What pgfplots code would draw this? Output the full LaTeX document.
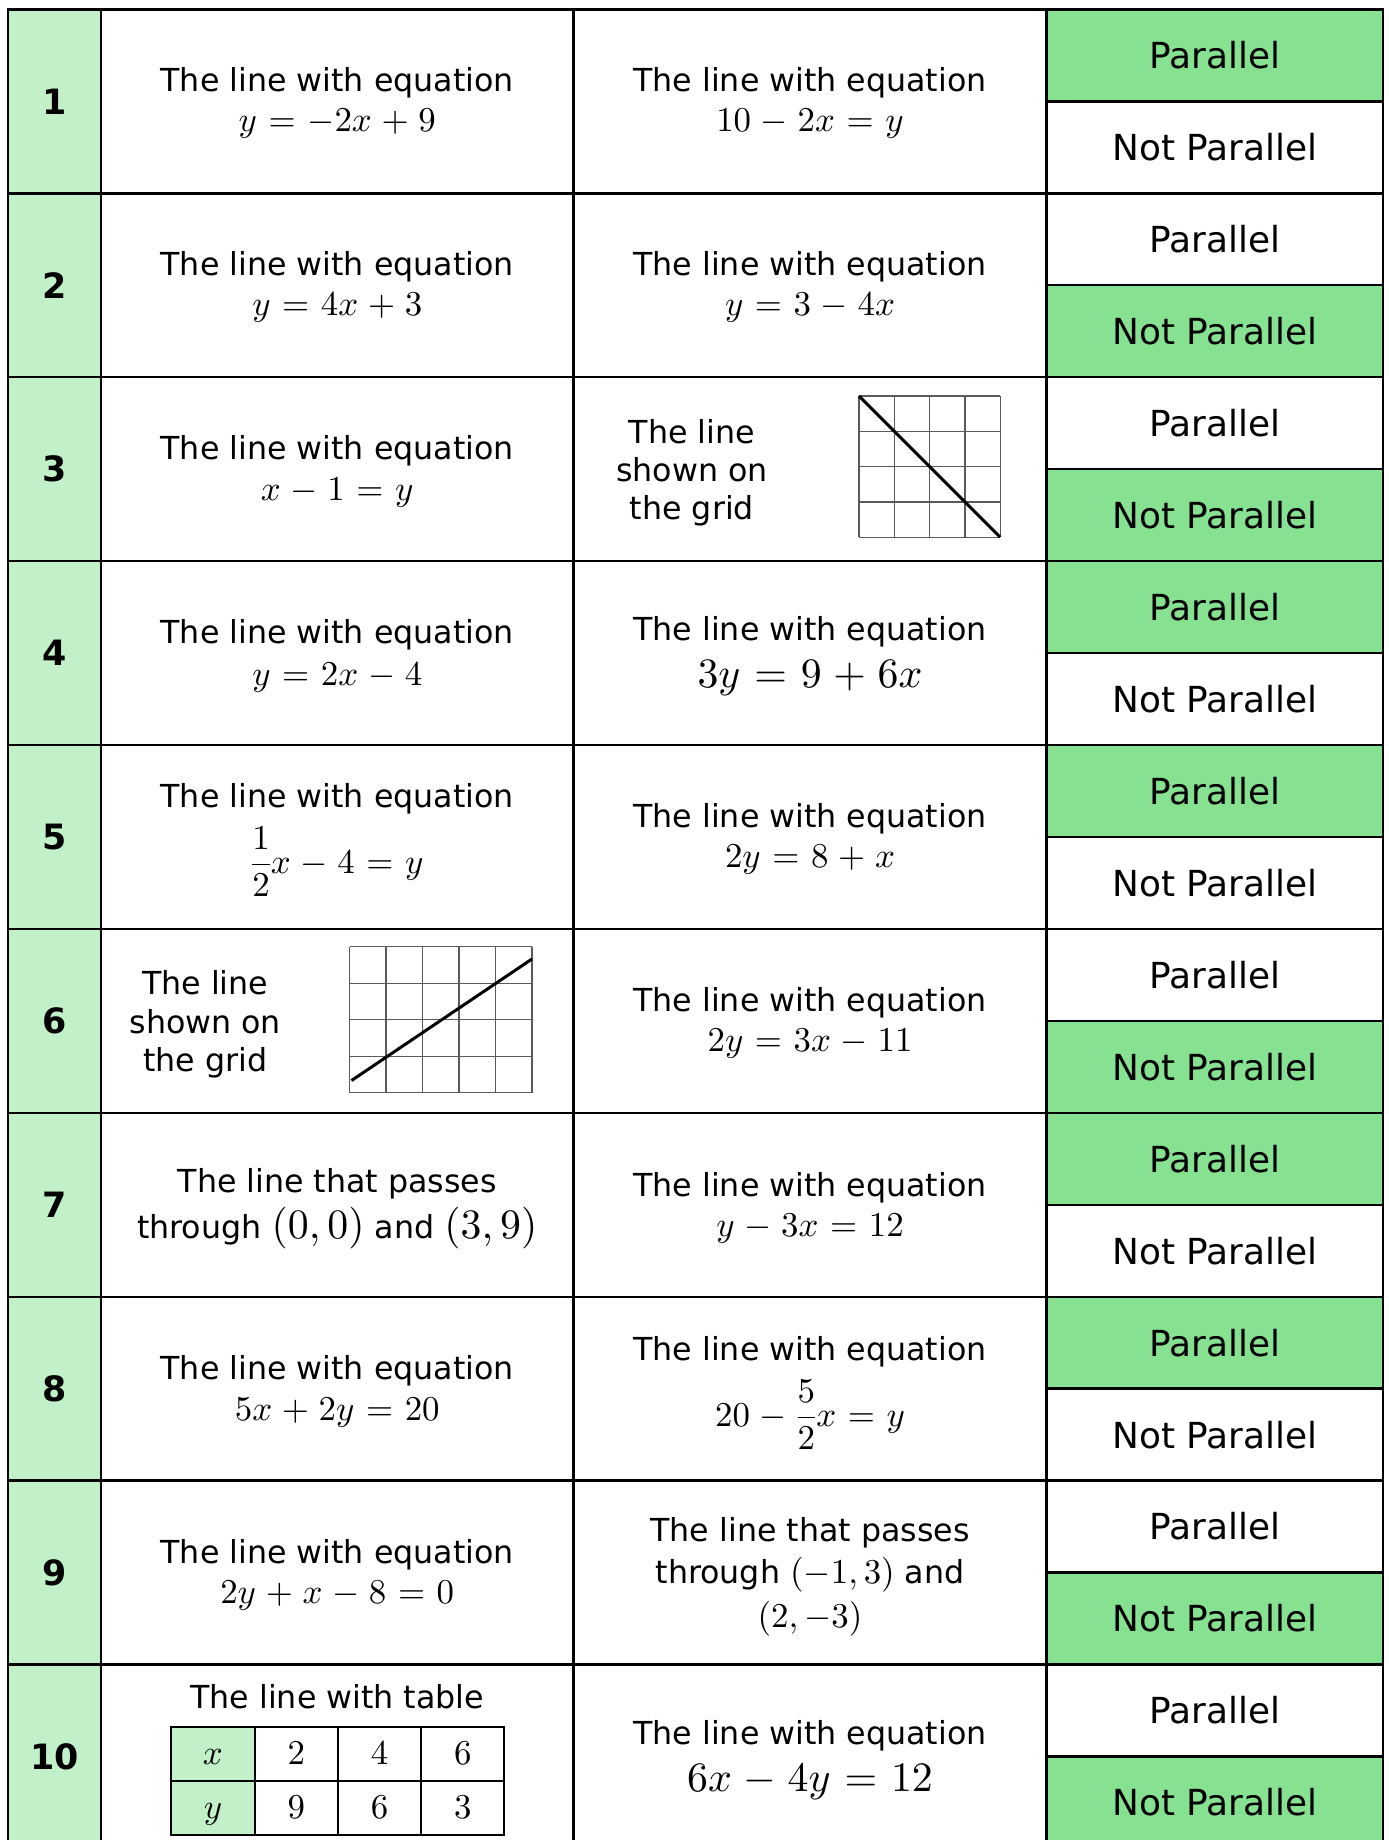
\RequirePackage{fix-cm}
\documentclass[border=0pt]{standalone}
\DeclareFontShape{OT1}{cmr}{m}{n}{<->cmr10}{}
\DeclareFontShape{OML}{cmm}{m}{it}{<->cmmi10}{}
\DeclareFontShape{OMS}{cmsy}{m}{n}{<->cmsy10}{}
\usepackage{amsmath}
\usepackage[no-math]{fontspec}
\setmainfont{DejaVu Sans}
\usepackage{pgfplots}
\pgfplotsset{compat=1.18}
\definecolor{numg}{HTML}{C2F0C8}
\definecolor{ansg}{HTML}{86E291}
\definecolor{gridc}{HTML}{5A5A5A}
\newcommand\tfz{\fontsize{31.8}{41}\selectfont}
\newcommand\mth[1]{{\fontsize{35}{42}\selectfont$#1$}}
\newcommand\bgm[1]{{\fontsize{42}{50}\selectfont$#1$}}
\newcommand\afz{\fontsize{36}{44}\selectfont}
\newcommand\nfz{\fontsize{35}{42}\selectfont\bfseries}
\newcommand\TX[3]{\node[anchor=base,font=\tfz,inner sep=0pt] at (axis cs:#1,#2) {#3};}
\newcommand\HL[3]{\addplot[black,line width=2.4bp,line cap=rect] coordinates {(#1,#3)(#2,#3)};}
\newcommand\VL[3]{\addplot[black,line width=2.4bp,line cap=rect] coordinates {(#1,#2)(#1,#3)};}
\newcommand\BOX[5]{\addplot[fill=#5,draw=none] coordinates {(#1,#2)(#3,#2)(#3,#4)(#1,#4)} -- cycle;}
\newcommand\GL[4]{\addplot[gridc,line width=1.3bp] coordinates {(#1,#2)(#3,#4)};}
\newcommand\PA[1]{\node[font=\afz] at (axis cs:1214.75,#1) {Parallel};}
\newcommand\NPA[1]{\node[font=\afz] at (axis cs:1214.75,#1) {Not Parallel};}
\newcommand\NUM[2]{\node[font=\nfz] at (axis cs:54.55,#1) {#2};}
\begin{document}
\thickmuskip=6mu plus 4mu
\medmuskip=5mu plus 2mu minus 3mu
\begin{tikzpicture}
\useasboundingbox (0,0) rectangle (1389bp,1840bp);
\begin{axis}[at={(0,0)},anchor=south west,width=1389bp,height=1840bp,
  scale only axis,xmin=0,xmax=1389,ymin=0,ymax=1840,y dir=reverse,
  hide axis,clip=true]
% number column
\BOX{8.2}{9.4}{100.9}{1848.4}{numg}
% green answers
\BOX{1046.4}{9.4}{1383.1}{101.35}{ansg}
\BOX{1046.4}{285.25}{1383.1}{377.2}{ansg}
\BOX{1046.4}{469.15}{1383.1}{561.1}{ansg}
\BOX{1046.4}{561.1}{1383.1}{653.05}{ansg}
\BOX{1046.4}{745.0}{1383.1}{836.95}{ansg}
\BOX{1046.4}{1020.85}{1383.1}{1112.8}{ansg}
\BOX{1046.4}{1112.8}{1383.1}{1204.75}{ansg}
\BOX{1046.4}{1296.7}{1383.1}{1388.65}{ansg}
\BOX{1046.4}{1572.55}{1383.1}{1664.5}{ansg}
\BOX{1046.4}{1756.45}{1383.1}{1848.4}{ansg}
% small table header
\BOX{171.3}{1726.8}{254.6}{1834.7}{numg}
% grid row 3
\GL{859}{396}{1000.2}{396}
\GL{859}{431.3}{1000.2}{431.3}
\GL{859}{466.6}{1000.2}{466.6}
\GL{859}{501.9}{1000.2}{501.9}
\GL{859}{537.2}{1000.2}{537.2}
\GL{859}{396}{859}{537.2}
\GL{894.3}{396}{894.3}{537.2}
\GL{929.6}{396}{929.6}{537.2}
\GL{964.9}{396}{964.9}{537.2}
\GL{1000.2}{396}{1000.2}{537.2}
\addplot[black,line width=3bp] coordinates {(859,396)(1000.2,537.2)};
% grid row 6
\GL{349.6}{946.7}{532.1}{946.7}
\GL{349.6}{983.2}{532.1}{983.2}
\GL{349.6}{1019.7}{532.1}{1019.7}
\GL{349.6}{1056.2}{532.1}{1056.2}
\GL{349.6}{1092.7}{532.1}{1092.7}
\GL{349.6}{946.7}{349.6}{1092.7}
\GL{386.1}{946.7}{386.1}{1092.7}
\GL{422.6}{946.7}{422.6}{1092.7}
\GL{459.1}{946.7}{459.1}{1092.7}
\GL{495.6}{946.7}{495.6}{1092.7}
\GL{532.1}{946.7}{532.1}{1092.7}
\addplot[black,line width=3bp] coordinates {(351.5,1080.5)(532.1,958.9)};
% main borders
\HL{8.2}{1383.1}{9.4}
\HL{8.2}{1383.1}{193.3}
\HL{8.2}{1383.1}{377.2}
\HL{8.2}{1383.1}{561.1}
\HL{8.2}{1383.1}{745.0}
\HL{8.2}{1383.1}{928.9}
\HL{8.2}{1383.1}{1112.8}
\HL{8.2}{1383.1}{1296.7}
\HL{8.2}{1383.1}{1480.6}
\HL{8.2}{1383.1}{1664.5}
\HL{8.2}{1383.1}{1848.4}
\HL{1046.4}{1383.1}{101.35}
\HL{1046.4}{1383.1}{285.25}
\HL{1046.4}{1383.1}{469.15}
\HL{1046.4}{1383.1}{653.05}
\HL{1046.4}{1383.1}{836.95}
\HL{1046.4}{1383.1}{1020.85}
\HL{1046.4}{1383.1}{1204.75}
\HL{1046.4}{1383.1}{1388.65}
\HL{1046.4}{1383.1}{1572.55}
\HL{1046.4}{1383.1}{1756.45}
\VL{8.2}{9.4}{1848.4}
\VL{100.9}{9.4}{1848.4}
\VL{573.6}{9.4}{1848.4}
\VL{1046.4}{9.4}{1848.4}
\VL{1383.1}{9.4}{1848.4}
% small table lines
\addplot[black,line width=2bp,line cap=rect] coordinates {(171.3,1726.8)(504.4,1726.8)};
\addplot[black,line width=2bp,line cap=rect] coordinates {(171.3,1780.7)(504.4,1780.7)};
\addplot[black,line width=2bp,line cap=rect] coordinates {(171.3,1834.7)(504.4,1834.7)};
\addplot[black,line width=2bp,line cap=rect] coordinates {(171.3,1726.8)(171.3,1834.7)};
\addplot[black,line width=2bp,line cap=rect] coordinates {(254.6,1726.8)(254.6,1834.7)};
\addplot[black,line width=2bp,line cap=rect] coordinates {(337.9,1726.8)(337.9,1834.7)};
\addplot[black,line width=2bp,line cap=rect] coordinates {(421.1,1726.8)(421.1,1834.7)};
\addplot[black,line width=2bp,line cap=rect] coordinates {(504.4,1726.8)(504.4,1834.7)};
% numbers
\NUM{101.35}{1}
\NUM{285.25}{2}
\NUM{469.15}{3}
\NUM{653.05}{4}
\NUM{836.95}{5}
\NUM{1020.85}{6}
\NUM{1204.75}{7}
\NUM{1388.65}{8}
\NUM{1572.55}{9}
\NUM{1756.45}{10}
% answers
\PA{55.4}\NPA{147.35}
\PA{239.3}\NPA{331.25}
\PA{423.2}\NPA{515.15}
\PA{607.1}\NPA{699.05}
\PA{791.0}\NPA{882.95}
\PA{974.9}\NPA{1066.85}
\PA{1158.8}\NPA{1250.75}
\PA{1342.7}\NPA{1434.65}
\PA{1526.6}\NPA{1618.55}
\PA{1710.5}\NPA{1802.45}
% row 1
\TX{337.25}{91}{The line with equation}
\TX{337.25}{131}{\mth{y=-2x+9}}
\TX{810}{91}{The line with equation}
\TX{810}{131}{\mth{10-2x=y}}
% row 2
\TX{337.25}{275}{The line with equation}
\TX{337.25}{315}{\mth{y=4x+3}}
\TX{810}{275}{The line with equation}
\TX{810}{315}{\mth{y=3-4x}}
% row 3
\TX{337.25}{459}{The line with equation}
\TX{337.25}{500}{\mth{x-1=y}}
\TX{692}{443}{The line}
\TX{692}{481}{shown on}
\TX{692}{519}{the grid}
% row 4
\TX{337.25}{643}{The line with equation}
\TX{337.25}{685}{\mth{y=2x-4}}
\TX{810}{640}{The line with equation}
\TX{810}{687.5}{\bgm{3y=9+6x}}
% row 5
\TX{337.25}{807.5}{The line with equation}
\TX{337.25}{873}{\mth{\displaystyle\frac{1}{2}x-4=y}}
\TX{810}{827.5}{The line with equation}
\TX{810}{867.5}{\mth{2y=8+x}}
% row 6
\TX{205.3}{994}{The line}
\TX{205.3}{1033}{shown on}
\TX{205.3}{1071.5}{the grid}
\TX{810}{1011.6}{The line with equation}
\TX{810}{1051.7}{\mth{2y=3x-11}}
% row 7
\TX{337.25}{1192}{The line that passes}
\TX{337.25}{1238}{through \bgm{(0,0)} and \bgm{(3,9)}}
\TX{810}{1196}{The line with equation}
\TX{810}{1236}{\mth{y-3x=12}}
% row 8
\TX{337.25}{1379}{The line with equation}
\TX{337.25}{1420}{\mth{5x+2y=20}}
\TX{810}{1360}{The line with equation}
\TX{810}{1426}{\mth{\displaystyle 20-\frac{5}{2}x=y}}
% row 9
\TX{337.25}{1563}{The line with equation}
\TX{337.25}{1603}{\mth{2y+x-8=0}}
\TX{810}{1541}{The line that passes}
\TX{810}{1583}{through \mth{(-1,3)} and}
\TX{810}{1627}{\mth{(2,-3)}}
% row 10
\TX{337.25}{1708.5}{The line with table}
\TX{212.95}{1764}{\mth{x}}
\TX{296.25}{1764}{\mth{2}}
\TX{379.5}{1764}{\mth{4}}
\TX{462.75}{1764}{\mth{6}}
\TX{212.95}{1818}{\mth{y}}
\TX{296.25}{1818}{\mth{9}}
\TX{379.5}{1818}{\mth{6}}
\TX{462.75}{1818}{\mth{3}}
\TX{810}{1744}{The line with equation}
\TX{810}{1791}{\bgm{6x-4y=12}}
\end{axis}
\end{tikzpicture}
\end{document}
